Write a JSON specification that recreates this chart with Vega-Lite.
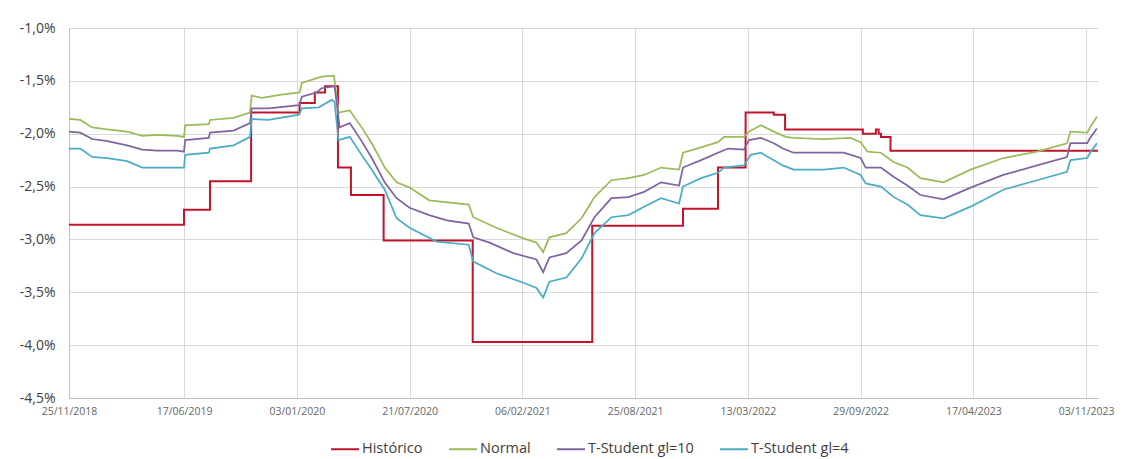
{
  "$schema": "https://vega.github.io/schema/vega-lite/v6.json",
  "width": 1029,
  "height": 370,
  "autosize": {"type": "none"},
  "padding": {"left": 69, "top": 28, "right": 33, "bottom": 61},
  "background": "white",
  "config": {
    "view": {"stroke": null},
    "font": "Open Sans"
  },
  "datasets": {
    "hist": [
      {"d": "2018-11-25", "s": "Histórico", "v": -2.86},
      {"d": "2019-06-17", "s": "Histórico", "v": -2.72},
      {"d": "2019-08-02", "s": "Histórico", "v": -2.45},
      {"d": "2019-10-14", "s": "Histórico", "v": -1.80},
      {"d": "2020-01-08", "s": "Histórico", "v": -1.71},
      {"d": "2020-02-04", "s": "Histórico", "v": -1.61},
      {"d": "2020-02-22", "s": "Histórico", "v": -1.55},
      {"d": "2020-03-16", "s": "Histórico", "v": -2.32},
      {"d": "2020-04-08", "s": "Histórico", "v": -2.58},
      {"d": "2020-06-05", "s": "Histórico", "v": -3.01},
      {"d": "2020-11-10", "s": "Histórico", "v": -3.97},
      {"d": "2021-06-10", "s": "Histórico", "v": -2.87},
      {"d": "2021-11-18", "s": "Histórico", "v": -2.71},
      {"d": "2022-01-19", "s": "Histórico", "v": -2.32},
      {"d": "2022-03-09", "s": "Histórico", "v": -1.80},
      {"d": "2022-04-28", "s": "Histórico", "v": -1.82},
      {"d": "2022-05-18", "s": "Histórico", "v": -1.96},
      {"d": "2022-10-03", "s": "Histórico", "v": -2.00},
      {"d": "2022-10-26", "s": "Histórico", "v": -1.96},
      {"d": "2022-10-31", "s": "Histórico", "v": -2.00},
      {"d": "2022-11-04", "s": "Histórico", "v": -2.03},
      {"d": "2022-11-21", "s": "Histórico", "v": -2.16},
      {"d": "2023-11-22", "s": "Histórico", "v": -2.17}
    ],
    "sim": [
      {"d": "2018-11-25", "s": "Normal", "v": -1.86},
      {"d": "2018-12-15", "s": "Normal", "v": -1.87},
      {"d": "2019-01-05", "s": "Normal", "v": -1.94},
      {"d": "2019-02-01", "s": "Normal", "v": -1.96},
      {"d": "2019-03-08", "s": "Normal", "v": -1.98},
      {"d": "2019-04-04", "s": "Normal", "v": -2.02},
      {"d": "2019-04-30", "s": "Normal", "v": -2.01},
      {"d": "2019-06-05", "s": "Normal", "v": -2.02},
      {"d": "2019-06-17", "s": "Normal", "v": -2.03},
      {"d": "2019-06-19", "s": "Normal", "v": -1.92},
      {"d": "2019-07-31", "s": "Normal", "v": -1.91},
      {"d": "2019-08-02", "s": "Normal", "v": -1.87},
      {"d": "2019-09-13", "s": "Normal", "v": -1.85},
      {"d": "2019-10-12", "s": "Normal", "v": -1.80},
      {"d": "2019-10-15", "s": "Normal", "v": -1.64},
      {"d": "2019-11-02", "s": "Normal", "v": -1.66},
      {"d": "2019-12-07", "s": "Normal", "v": -1.63},
      {"d": "2020-01-08", "s": "Normal", "v": -1.61},
      {"d": "2020-01-12", "s": "Normal", "v": -1.52},
      {"d": "2020-02-16", "s": "Normal", "v": -1.46},
      {"d": "2020-03-09", "s": "Normal", "v": -1.45},
      {"d": "2020-03-17", "s": "Normal", "v": -1.80},
      {"d": "2020-04-06", "s": "Normal", "v": -1.78},
      {"d": "2020-04-27", "s": "Normal", "v": -1.94},
      {"d": "2020-05-15", "s": "Normal", "v": -2.09},
      {"d": "2020-06-07", "s": "Normal", "v": -2.32},
      {"d": "2020-06-28", "s": "Normal", "v": -2.46},
      {"d": "2020-07-21", "s": "Normal", "v": -2.51},
      {"d": "2020-08-25", "s": "Normal", "v": -2.63},
      {"d": "2020-11-03", "s": "Normal", "v": -2.67},
      {"d": "2020-11-11", "s": "Normal", "v": -2.79},
      {"d": "2020-12-22", "s": "Normal", "v": -2.89},
      {"d": "2021-02-08", "s": "Normal", "v": -2.99},
      {"d": "2021-03-03", "s": "Normal", "v": -3.03},
      {"d": "2021-03-15", "s": "Normal", "v": -3.12},
      {"d": "2021-03-26", "s": "Normal", "v": -2.98},
      {"d": "2021-04-25", "s": "Normal", "v": -2.94},
      {"d": "2021-05-22", "s": "Normal", "v": -2.80},
      {"d": "2021-06-14", "s": "Normal", "v": -2.60},
      {"d": "2021-07-14", "s": "Normal", "v": -2.44},
      {"d": "2021-08-13", "s": "Normal", "v": -2.42},
      {"d": "2021-09-10", "s": "Normal", "v": -2.39},
      {"d": "2021-10-10", "s": "Normal", "v": -2.32},
      {"d": "2021-11-11", "s": "Normal", "v": -2.34},
      {"d": "2021-11-18", "s": "Normal", "v": -2.18},
      {"d": "2021-12-20", "s": "Normal", "v": -2.13},
      {"d": "2022-01-19", "s": "Normal", "v": -2.08},
      {"d": "2022-01-30", "s": "Normal", "v": -2.03},
      {"d": "2022-03-06", "s": "Normal", "v": -2.03},
      {"d": "2022-03-15", "s": "Normal", "v": -1.98},
      {"d": "2022-04-05", "s": "Normal", "v": -1.92},
      {"d": "2022-04-28", "s": "Normal", "v": -1.98},
      {"d": "2022-05-19", "s": "Normal", "v": -2.03},
      {"d": "2022-06-02", "s": "Normal", "v": -2.04},
      {"d": "2022-07-26", "s": "Normal", "v": -2.05},
      {"d": "2022-09-11", "s": "Normal", "v": -2.04},
      {"d": "2022-09-29", "s": "Normal", "v": -2.08},
      {"d": "2022-10-11", "s": "Normal", "v": -2.17},
      {"d": "2022-11-04", "s": "Normal", "v": -2.18},
      {"d": "2022-11-27", "s": "Normal", "v": -2.27},
      {"d": "2022-12-21", "s": "Normal", "v": -2.32},
      {"d": "2023-01-13", "s": "Normal", "v": -2.42},
      {"d": "2023-02-23", "s": "Normal", "v": -2.46},
      {"d": "2023-04-12", "s": "Normal", "v": -2.34},
      {"d": "2023-06-09", "s": "Normal", "v": -2.23},
      {"d": "2023-08-08", "s": "Normal", "v": -2.17},
      {"d": "2023-09-30", "s": "Normal", "v": -2.09},
      {"d": "2023-10-06", "s": "Normal", "v": -1.98},
      {"d": "2023-11-05", "s": "Normal", "v": -1.99},
      {"d": "2023-11-10", "s": "Normal", "v": -1.94},
      {"d": "2023-11-22", "s": "Normal", "v": -1.84},

      {"d": "2018-11-25", "s": "T-Student gl=10", "v": -1.98},
      {"d": "2018-12-15", "s": "T-Student gl=10", "v": -1.99},
      {"d": "2019-01-05", "s": "T-Student gl=10", "v": -2.05},
      {"d": "2019-02-01", "s": "T-Student gl=10", "v": -2.07},
      {"d": "2019-03-08", "s": "T-Student gl=10", "v": -2.11},
      {"d": "2019-04-04", "s": "T-Student gl=10", "v": -2.15},
      {"d": "2019-04-30", "s": "T-Student gl=10", "v": -2.16},
      {"d": "2019-06-05", "s": "T-Student gl=10", "v": -2.16},
      {"d": "2019-06-17", "s": "T-Student gl=10", "v": -2.17},
      {"d": "2019-06-19", "s": "T-Student gl=10", "v": -2.06},
      {"d": "2019-07-31", "s": "T-Student gl=10", "v": -2.04},
      {"d": "2019-08-02", "s": "T-Student gl=10", "v": -1.99},
      {"d": "2019-09-13", "s": "T-Student gl=10", "v": -1.97},
      {"d": "2019-10-12", "s": "T-Student gl=10", "v": -1.90},
      {"d": "2019-10-15", "s": "T-Student gl=10", "v": -1.76},
      {"d": "2019-11-14", "s": "T-Student gl=10", "v": -1.76},
      {"d": "2020-01-07", "s": "T-Student gl=10", "v": -1.73},
      {"d": "2020-01-12", "s": "T-Student gl=10", "v": -1.65},
      {"d": "2020-02-07", "s": "T-Student gl=10", "v": -1.61},
      {"d": "2020-02-16", "s": "T-Student gl=10", "v": -1.57},
      {"d": "2020-03-10", "s": "T-Student gl=10", "v": -1.55},
      {"d": "2020-03-19", "s": "T-Student gl=10", "v": -1.94},
      {"d": "2020-04-06", "s": "T-Student gl=10", "v": -1.90},
      {"d": "2020-04-27", "s": "T-Student gl=10", "v": -2.07},
      {"d": "2020-05-15", "s": "T-Student gl=10", "v": -2.23},
      {"d": "2020-06-07", "s": "T-Student gl=10", "v": -2.46},
      {"d": "2020-06-28", "s": "T-Student gl=10", "v": -2.61},
      {"d": "2020-07-21", "s": "T-Student gl=10", "v": -2.70},
      {"d": "2020-08-25", "s": "T-Student gl=10", "v": -2.77},
      {"d": "2020-09-25", "s": "T-Student gl=10", "v": -2.82},
      {"d": "2020-11-03", "s": "T-Student gl=10", "v": -2.85},
      {"d": "2020-11-11", "s": "T-Student gl=10", "v": -2.98},
      {"d": "2020-12-10", "s": "T-Student gl=10", "v": -3.03},
      {"d": "2021-01-21", "s": "T-Student gl=10", "v": -3.13},
      {"d": "2021-03-03", "s": "T-Student gl=10", "v": -3.19},
      {"d": "2021-03-15", "s": "T-Student gl=10", "v": -3.31},
      {"d": "2021-03-26", "s": "T-Student gl=10", "v": -3.17},
      {"d": "2021-04-25", "s": "T-Student gl=10", "v": -3.13},
      {"d": "2021-05-22", "s": "T-Student gl=10", "v": -3.01},
      {"d": "2021-06-14", "s": "T-Student gl=10", "v": -2.79},
      {"d": "2021-07-14", "s": "T-Student gl=10", "v": -2.61},
      {"d": "2021-08-13", "s": "T-Student gl=10", "v": -2.60},
      {"d": "2021-09-10", "s": "T-Student gl=10", "v": -2.55},
      {"d": "2021-10-10", "s": "T-Student gl=10", "v": -2.46},
      {"d": "2021-11-11", "s": "T-Student gl=10", "v": -2.49},
      {"d": "2021-11-18", "s": "T-Student gl=10", "v": -2.32},
      {"d": "2021-12-20", "s": "T-Student gl=10", "v": -2.25},
      {"d": "2022-01-19", "s": "T-Student gl=10", "v": -2.18},
      {"d": "2022-02-06", "s": "T-Student gl=10", "v": -2.14},
      {"d": "2022-03-06", "s": "T-Student gl=10", "v": -2.15},
      {"d": "2022-03-15", "s": "T-Student gl=10", "v": -2.06},
      {"d": "2022-04-05", "s": "T-Student gl=10", "v": -2.04},
      {"d": "2022-04-28", "s": "T-Student gl=10", "v": -2.09},
      {"d": "2022-05-14", "s": "T-Student gl=10", "v": -2.14},
      {"d": "2022-06-02", "s": "T-Student gl=10", "v": -2.18},
      {"d": "2022-07-26", "s": "T-Student gl=10", "v": -2.18},
      {"d": "2022-08-30", "s": "T-Student gl=10", "v": -2.18},
      {"d": "2022-09-29", "s": "T-Student gl=10", "v": -2.23},
      {"d": "2022-10-08", "s": "T-Student gl=10", "v": -2.32},
      {"d": "2022-11-04", "s": "T-Student gl=10", "v": -2.32},
      {"d": "2022-11-27", "s": "T-Student gl=10", "v": -2.41},
      {"d": "2022-12-21", "s": "T-Student gl=10", "v": -2.49},
      {"d": "2023-01-13", "s": "T-Student gl=10", "v": -2.58},
      {"d": "2023-02-23", "s": "T-Student gl=10", "v": -2.62},
      {"d": "2023-04-12", "s": "T-Student gl=10", "v": -2.51},
      {"d": "2023-06-09", "s": "T-Student gl=10", "v": -2.39},
      {"d": "2023-08-08", "s": "T-Student gl=10", "v": -2.30},
      {"d": "2023-09-30", "s": "T-Student gl=10", "v": -2.22},
      {"d": "2023-10-06", "s": "T-Student gl=10", "v": -2.09},
      {"d": "2023-11-05", "s": "T-Student gl=10", "v": -2.09},
      {"d": "2023-11-10", "s": "T-Student gl=10", "v": -2.04},
      {"d": "2023-11-22", "s": "T-Student gl=10", "v": -1.95},

      {"d": "2018-11-25", "s": "T-Student gl=4", "v": -2.14},
      {"d": "2018-12-15", "s": "T-Student gl=4", "v": -2.14},
      {"d": "2019-01-05", "s": "T-Student gl=4", "v": -2.22},
      {"d": "2019-02-01", "s": "T-Student gl=4", "v": -2.23},
      {"d": "2019-03-08", "s": "T-Student gl=4", "v": -2.26},
      {"d": "2019-04-04", "s": "T-Student gl=4", "v": -2.32},
      {"d": "2019-04-30", "s": "T-Student gl=4", "v": -2.32},
      {"d": "2019-06-05", "s": "T-Student gl=4", "v": -2.32},
      {"d": "2019-06-17", "s": "T-Student gl=4", "v": -2.32},
      {"d": "2019-06-19", "s": "T-Student gl=4", "v": -2.20},
      {"d": "2019-07-31", "s": "T-Student gl=4", "v": -2.18},
      {"d": "2019-08-02", "s": "T-Student gl=4", "v": -2.14},
      {"d": "2019-09-13", "s": "T-Student gl=4", "v": -2.11},
      {"d": "2019-10-12", "s": "T-Student gl=4", "v": -2.03},
      {"d": "2019-10-15", "s": "T-Student gl=4", "v": -1.86},
      {"d": "2019-11-14", "s": "T-Student gl=4", "v": -1.87},
      {"d": "2020-01-07", "s": "T-Student gl=4", "v": -1.82},
      {"d": "2020-01-12", "s": "T-Student gl=4", "v": -1.76},
      {"d": "2020-02-11", "s": "T-Student gl=4", "v": -1.75},
      {"d": "2020-03-05", "s": "T-Student gl=4", "v": -1.68},
      {"d": "2020-03-10", "s": "T-Student gl=4", "v": -1.70},
      {"d": "2020-03-17", "s": "T-Student gl=4", "v": -2.06},
      {"d": "2020-04-06", "s": "T-Student gl=4", "v": -2.03},
      {"d": "2020-04-27", "s": "T-Student gl=4", "v": -2.20},
      {"d": "2020-05-15", "s": "T-Student gl=4", "v": -2.34},
      {"d": "2020-06-07", "s": "T-Student gl=4", "v": -2.53},
      {"d": "2020-06-28", "s": "T-Student gl=4", "v": -2.80},
      {"d": "2020-07-21", "s": "T-Student gl=4", "v": -2.89},
      {"d": "2020-09-07", "s": "T-Student gl=4", "v": -3.02},
      {"d": "2020-11-03", "s": "T-Student gl=4", "v": -3.05},
      {"d": "2020-11-11", "s": "T-Student gl=4", "v": -3.21},
      {"d": "2020-12-22", "s": "T-Student gl=4", "v": -3.32},
      {"d": "2021-02-08", "s": "T-Student gl=4", "v": -3.41},
      {"d": "2021-03-03", "s": "T-Student gl=4", "v": -3.46},
      {"d": "2021-03-15", "s": "T-Student gl=4", "v": -3.55},
      {"d": "2021-03-26", "s": "T-Student gl=4", "v": -3.40},
      {"d": "2021-04-25", "s": "T-Student gl=4", "v": -3.36},
      {"d": "2021-05-22", "s": "T-Student gl=4", "v": -3.18},
      {"d": "2021-06-14", "s": "T-Student gl=4", "v": -2.94},
      {"d": "2021-07-14", "s": "T-Student gl=4", "v": -2.79},
      {"d": "2021-08-13", "s": "T-Student gl=4", "v": -2.77},
      {"d": "2021-09-10", "s": "T-Student gl=4", "v": -2.69},
      {"d": "2021-10-10", "s": "T-Student gl=4", "v": -2.61},
      {"d": "2021-11-11", "s": "T-Student gl=4", "v": -2.66},
      {"d": "2021-11-18", "s": "T-Student gl=4", "v": -2.50},
      {"d": "2021-12-20", "s": "T-Student gl=4", "v": -2.42},
      {"d": "2022-01-19", "s": "T-Student gl=4", "v": -2.37},
      {"d": "2022-01-30", "s": "T-Student gl=4", "v": -2.32},
      {"d": "2022-03-06", "s": "T-Student gl=4", "v": -2.30},
      {"d": "2022-03-18", "s": "T-Student gl=4", "v": -2.20},
      {"d": "2022-04-05", "s": "T-Student gl=4", "v": -2.18},
      {"d": "2022-04-28", "s": "T-Student gl=4", "v": -2.25},
      {"d": "2022-05-14", "s": "T-Student gl=4", "v": -2.30},
      {"d": "2022-06-02", "s": "T-Student gl=4", "v": -2.34},
      {"d": "2022-07-26", "s": "T-Student gl=4", "v": -2.34},
      {"d": "2022-08-30", "s": "T-Student gl=4", "v": -2.32},
      {"d": "2022-09-29", "s": "T-Student gl=4", "v": -2.39},
      {"d": "2022-10-08", "s": "T-Student gl=4", "v": -2.47},
      {"d": "2022-11-04", "s": "T-Student gl=4", "v": -2.50},
      {"d": "2022-11-27", "s": "T-Student gl=4", "v": -2.60},
      {"d": "2022-12-21", "s": "T-Student gl=4", "v": -2.67},
      {"d": "2023-01-13", "s": "T-Student gl=4", "v": -2.77},
      {"d": "2023-02-23", "s": "T-Student gl=4", "v": -2.80},
      {"d": "2023-04-12", "s": "T-Student gl=4", "v": -2.69},
      {"d": "2023-06-09", "s": "T-Student gl=4", "v": -2.53},
      {"d": "2023-08-08", "s": "T-Student gl=4", "v": -2.44},
      {"d": "2023-09-30", "s": "T-Student gl=4", "v": -2.36},
      {"d": "2023-10-06", "s": "T-Student gl=4", "v": -2.25},
      {"d": "2023-11-05", "s": "T-Student gl=4", "v": -2.23},
      {"d": "2023-11-10", "s": "T-Student gl=4", "v": -2.18},
      {"d": "2023-11-22", "s": "T-Student gl=4", "v": -2.09}
    ]
  },
  "encoding": {
    "x": {
      "field": "d",
      "type": "temporal",
      "title": null,
      "scale": {
        "type": "utc",
        "domain": [
          {"year": 2018, "month": 11, "date": 25, "utc": true},
          {"year": 2023, "month": 11, "date": 24, "utc": true}
        ]
      },
      "axis": {
        "values": [
          {"year": 2018, "month": 11, "date": 25, "utc": true},
          {"year": 2019, "month": 6, "date": 17, "utc": true},
          {"year": 2020, "month": 1, "date": 3, "utc": true},
          {"year": 2020, "month": 7, "date": 21, "utc": true},
          {"year": 2021, "month": 2, "date": 6, "utc": true},
          {"year": 2021, "month": 8, "date": 25, "utc": true},
          {"year": 2022, "month": 3, "date": 13, "utc": true},
          {"year": 2022, "month": 9, "date": 29, "utc": true},
          {"year": 2023, "month": 4, "date": 17, "utc": true},
          {"year": 2023, "month": 11, "date": 3, "utc": true}
        ],
        "format": "%d/%m/%Y",
        "labelAngle": 0,
        "labelFlush": false,
        "labelOverlap": false,
        "labelFont": "Open Sans",
        "labelFontSize": 10.5,
        "labelColor": "#666666",
        "labelPadding": 8,
        "ticks": false,
        "tickSize": 0,
        "domainColor": "#BFBFBF",
        "grid": true,
        "gridColor": "#D9D9D9",
        "gridWidth": 1
      }
    },
    "y": {
      "field": "v",
      "type": "quantitative",
      "title": null,
      "scale": {"domain": [-4.5, -1.0], "nice": false, "zero": false},
      "axis": {
        "values": [-4.5, -4.0, -3.5, -3.0, -2.5, -2.0, -1.5, -1.0],
        "labelExpr": "replace(replace(format(datum.value, '.1f'), '.', ','), '\u2212', '-') + '%'",
        "labelFont": "Open Sans",
        "labelFontSize": 14,
        "labelColor": "#404040",
        "labelPadding": 14,
        "ticks": false,
        "tickSize": 0,
        "domainColor": "#BFBFBF",
        "grid": true,
        "gridColor": "#D9D9D9",
        "gridWidth": 1
      }
    },
    "color": {
      "field": "s",
      "type": "nominal",
      "scale": {
        "domain": ["Histórico", "Normal", "T-Student gl=10", "T-Student gl=4"],
        "range": ["#C0142C", "#9BBB59", "#8064A2", "#4BACC6"]
      },
      "legend": {
        "title": null,
        "orient": "none",
        "direction": "horizontal",
        "legendX": 261,
        "legendY": 406,
        "symbolType": "stroke",
        "symbolSize": 784,
        "symbolStrokeWidth": 2,
        "labelFont": "Open Sans",
        "labelFontSize": 14.5,
        "labelColor": "#404040",
        "labelOffset": 2,
        "columnPadding": 22
      }
    }
  },
  "layer": [
    {
      "data": {"name": "hist"},
      "mark": {"type": "line", "interpolate": "step-after", "strokeWidth": 2}
    },
    {
      "data": {"name": "sim"},
      "mark": {"type": "line", "strokeWidth": 1.75}
    }
  ]
}
